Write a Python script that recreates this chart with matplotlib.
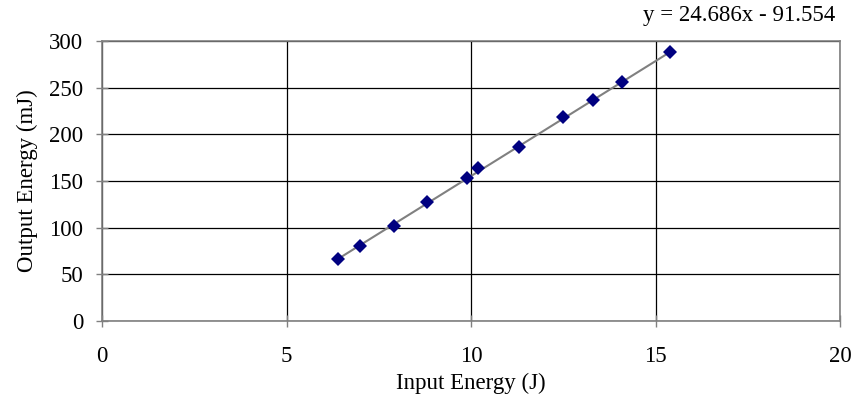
import matplotlib.pyplot as plt

# measured input vs output pulse energy
input_energy = [6.4, 7.0, 7.9, 8.8, 9.9, 10.2, 11.3, 12.5, 13.3, 14.1, 15.4]
output_energy = [66, 80, 102, 127, 153, 164, 186, 219, 237, 256, 288]

# linear trendline coefficients
slope = 24.686
intercept = -91.554

plt.rcParams['font.family'] = ['Liberation Serif', 'DejaVu Serif']

fig = plt.figure(figsize=(8.53, 4.12), dpi=100)
ax = fig.add_axes([0.1196, 0.2216, 0.8652, 0.6782])

x_fit = [min(input_energy), max(input_energy)]
y_fit = [slope * v + intercept for v in x_fit]
ax.plot(x_fit, y_fit, color='#808080', lw=1.5, zorder=2)
ax.plot(input_energy, output_energy, 'D', color='#000080', markersize=7.5,
        markeredgewidth=0, zorder=3)

ax.set_xlim(0, 20)
ax.set_ylim(0, 300)
ax.set_xticks([0, 5, 10, 15, 20])
ax.set_yticks(range(0, 301, 50))
ax.grid(True, color='black', lw=0.9)
ax.set_axisbelow(True)
for s in ax.spines.values():
    s.set_color('#808080')
    s.set_linewidth(1.2)
ax.tick_params(direction='inout', length=9, width=1, color='#808080',
               labelsize=16.5)
ax.tick_params(axis='x', pad=14)
ax.tick_params(axis='y', pad=9)

ax.set_xlabel('Input Energy (J)', fontsize=16.5, labelpad=4)
ax.set_ylabel('Output Energy (mJ)', fontsize=16.5, labelpad=8)

fig.text(0.979, 0.962, 'y = 24.686x - 91.554', fontsize=16.5,
         ha='right', va='center')

fig.savefig('out.png', dpi=100)
